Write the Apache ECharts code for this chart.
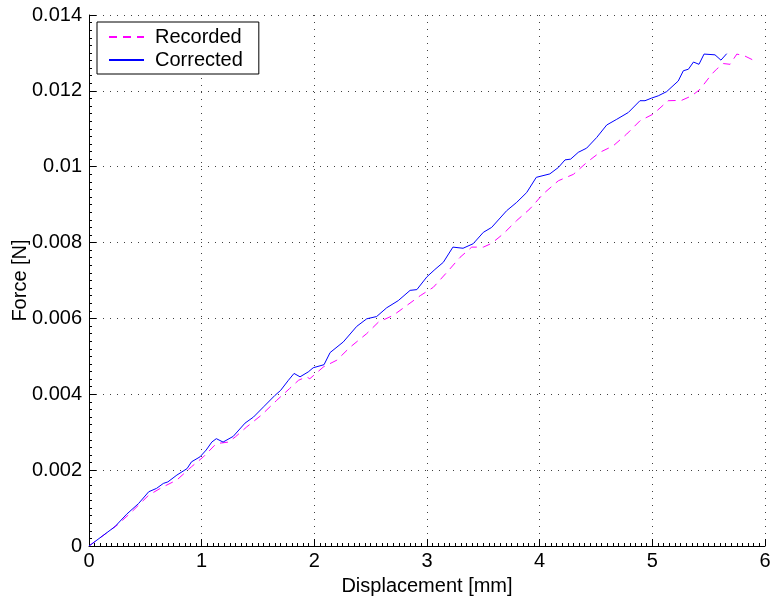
<!DOCTYPE html>
<html>
<head>
<meta charset="utf-8">
<script src="https://cdn.jsdelivr.net/npm/echarts@6/dist/echarts.min.js"></script>
<style>
html,body{margin:0;padding:0;background:#fff;}
#chart{width:771px;height:603px;}
</style>
</head>
<body>
<div id="chart"></div>
<script>
var xTicks = [0, 1, 2, 3, 4, 5, 6];
var yTicks = [0, 0.002, 0.004, 0.006, 0.008, 0.01, 0.012, 0.014];

var recordedX = [0, 0.25, 0.379, 0.53, 0.645, 0.78, 0.91, 1.015, 1.13, 1.24, 1.30, 1.40, 1.53, 1.666, 1.78, 1.86, 1.93, 1.96, 2.08, 2.2, 2.317, 2.465, 2.568, 2.70, 2.82, 2.94, 3.056, 3.19, 3.293, 3.397, 3.5, 3.574, 3.677, 3.796, 3.914, 4.03, 4.166, 4.3, 4.417, 4.535, 4.653, 4.772, 4.89, 5.009, 5.14, 5.26, 5.35, 5.423, 5.527, 5.57, 5.63, 5.69, 5.75, 5.82, 5.896, 5.91];
var recordedY = [0, 0.00055, 0.0009, 0.00134, 0.00154, 0.00174, 0.00209, 0.00235, 0.0027, 0.00274, 0.00288, 0.00314, 0.00345, 0.00384, 0.00415, 0.00437, 0.00446, 0.00441, 0.00472, 0.0049, 0.00524, 0.0056, 0.0059, 0.00608, 0.00634, 0.0066, 0.00682, 0.00726, 0.00761, 0.00788, 0.00788, 0.00798, 0.00823, 0.00858, 0.00889, 0.00928, 0.00963, 0.0098, 0.01011, 0.01038, 0.01055, 0.01086, 0.01121, 0.01139, 0.01174, 0.01175, 0.01187, 0.01204, 0.01244, 0.01257, 0.01272, 0.0127, 0.01297, 0.01292, 0.01281, 0.01288];

var correctedX = [0, 0.23, 0.335, 0.44, 0.53, 0.60, 0.66, 0.70, 0.78, 0.87, 0.91, 0.985, 1.04, 1.09, 1.13, 1.19, 1.28, 1.385, 1.46, 1.55, 1.65, 1.70, 1.77, 1.82, 1.873, 1.946, 1.99, 2.086, 2.14, 2.257, 2.376, 2.465, 2.553, 2.642, 2.745, 2.85, 2.91, 3.0, 3.07, 3.145, 3.23, 3.32, 3.41, 3.50, 3.574, 3.707, 3.796, 3.885, 3.97, 4.09, 4.166, 4.225, 4.275, 4.343, 4.417, 4.506, 4.595, 4.684, 4.787, 4.89, 4.935, 4.994, 5.053, 5.127, 5.23, 5.275, 5.32, 5.365, 5.414, 5.459, 5.556, 5.609, 5.66];
var correctedY = [0, 0.00051, 0.00084, 0.00112, 0.00143, 0.00152, 0.00165, 0.00169, 0.00187, 0.00204, 0.00222, 0.00235, 0.00253, 0.00274, 0.00283, 0.00274, 0.00289, 0.00324, 0.0034, 0.00367, 0.00397, 0.0041, 0.00437, 0.00455, 0.00446, 0.00459, 0.0047, 0.00478, 0.0051, 0.00538, 0.00579, 0.00599, 0.00605, 0.00628, 0.00647, 0.00674, 0.00676, 0.0071, 0.00729, 0.00748, 0.00788, 0.00785, 0.00797, 0.00827, 0.0084, 0.00884, 0.00906, 0.00932, 0.00972, 0.00981, 0.00998, 0.01018, 0.0102, 0.01038, 0.01049, 0.01077, 0.0111, 0.01125, 0.01143, 0.01174, 0.01174, 0.01181, 0.01187, 0.01198, 0.01226, 0.01253, 0.01257, 0.01276, 0.0127, 0.01297, 0.01295, 0.01281, 0.01298];

function pairs(xs, ys) { return xs.map(function (x, i) { return [x, ys[i]]; }); }

var FONT = '"Liberation Sans", Arial, Helvetica, sans-serif';
var gridLine = { show: true, lineStyle: { color: '#000', width: 1, type: [1, 6], opacity: 0.75 } };

var chart = echarts.init(document.getElementById('chart'), null, { renderer: 'canvas' });
chart.setOption({
  animation: false,
  backgroundColor: '#fff',
  textStyle: { fontFamily: FONT },
  grid: { left: 89, right: 6, top: 15, bottom: 57, containLabel: false, outerBoundsMode: 'none' },
  legend: {
    orient: 'vertical',
    left: 97, top: 22,
    padding: [5, 16, 4, 11],
    itemWidth: 35, itemHeight: 20, itemGap: 3,
    backgroundColor: '#fff',
    borderColor: '#000', borderWidth: 1, borderRadius: 0,
    itemStyle: { opacity: 0 },
    textStyle: { fontSize: 20, color: '#000', fontFamily: FONT, padding: [0, 0, 0, 6], lineHeight: 20 },
    data: ['Recorded', 'Corrected']
  },
  xAxis: {
    type: 'value',
    min: xTicks[0], max: xTicks[xTicks.length - 1], interval: 1,
    name: 'Displacement [mm]', nameLocation: 'middle', nameGap: 30, nameMoveOverlap: false,
    nameTextStyle: { fontSize: 20, color: '#000', fontFamily: FONT },
    axisLine: { show: true, onZero: false, lineStyle: { color: '#000', width: 1 } },
    axisTick: { show: true, inside: true, length: 7, lineStyle: { color: '#000' } },
    minorTick: { show: true, splitNumber: 20, length: 3, lineStyle: { color: '#000' } },
    axisLabel: { fontSize: 20, color: '#000', margin: 5, fontFamily: FONT,
      formatter: function (v) { return String(v); } },
    splitLine: gridLine
  },
  yAxis: {
    type: 'value',
    min: yTicks[0], max: yTicks[yTicks.length - 1], interval: 0.002,
    name: 'Force [N]', nameLocation: 'middle', nameGap: 59, nameRotate: 90, nameMoveOverlap: false,
    nameTextStyle: { fontSize: 20, color: '#000', fontFamily: FONT },
    axisLine: { show: true, onZero: false, lineStyle: { color: '#000', width: 1 } },
    axisTick: { show: true, inside: true, length: 7, lineStyle: { color: '#000' } },
    minorTick: { show: true, splitNumber: 10, length: 3, lineStyle: { color: '#000' } },
    axisLabel: { fontSize: 20, color: '#000', margin: 7, fontFamily: FONT,
      formatter: function (v) { var r = parseFloat(v.toFixed(3)); return r === 0 ? '0' : r.toString(); } },
    splitLine: gridLine
  },
  series: [
    {
      name: 'Recorded', type: 'line', showSymbol: false, symbol: 'none',
      data: pairs(recordedX, recordedY),
      lineStyle: { color: '#ff00ff', width: 1, type: [8, 6] },
      itemStyle: { color: '#ff00ff' }, z: 2
    },
    {
      name: 'Corrected', type: 'line', showSymbol: false, symbol: 'none',
      data: pairs(correctedX, correctedY),
      lineStyle: { color: '#0000ff', width: 1, type: 'solid' },
      itemStyle: { color: '#0000ff' }, z: 3
    }
  ]
});
</script>
</body>
</html>
